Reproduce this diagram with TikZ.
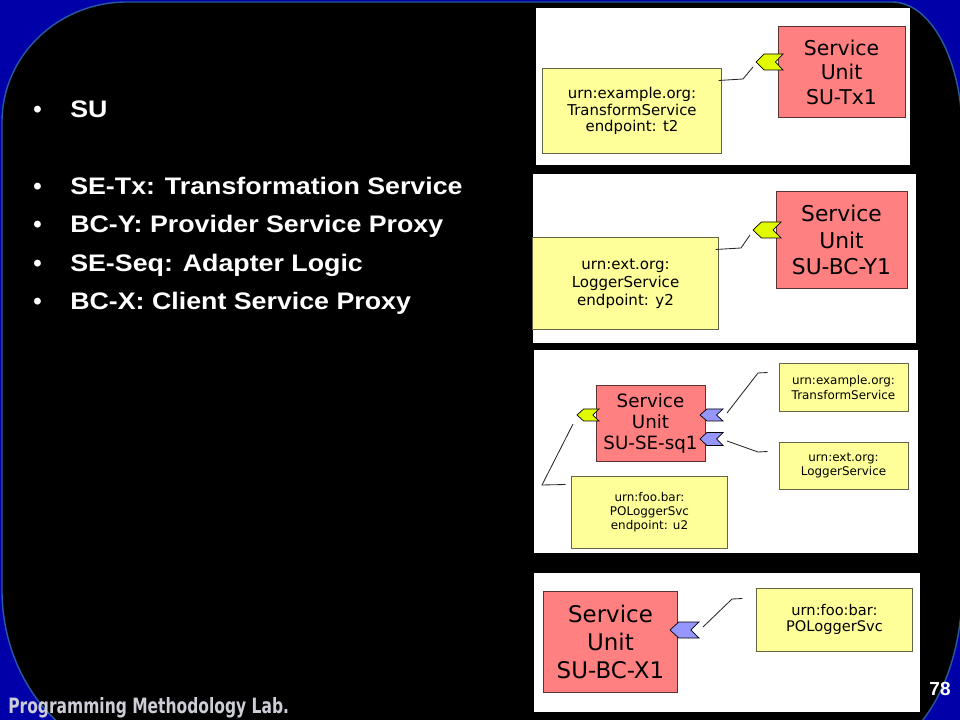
\documentclass[tikz,border=0pt]{standalone}
\usepackage{fontspec}
\setmainfont{Liberation Sans}
\newfontfamily\diafont{DejaVu Sans}
\usetikzlibrary{calc}
\definecolor{slblue}{RGB}{0,0,168}
\definecolor{sledge}{RGB}{40,90,160}
\definecolor{sured}{RGB}{255,128,128}
\definecolor{suredline}{RGB}{90,50,50}
\definecolor{refyel}{RGB}{255,255,153}
\definecolor{refyelline}{RGB}{100,100,70}
\definecolor{chyel}{RGB}{226,250,0}
\definecolor{chblue}{RGB}{150,150,255}
\definecolor{wire}{RGB}{40,40,40}
\definecolor{labgray}{RGB}{205,205,215}

% chevron endpoint: tip x, tip y, width, height, colour
\def\chevron#1#2#3#4#5{%
  \filldraw[fill=#5, draw=black, line width=0.5pt]
    (#1,#2) -- (#1+0.3*#3,#2-0.5*#4) -- (#1+#3,#2-0.5*#4)
    -- (#1+0.72*#3,#2) -- (#1+#3,#2+0.5*#4) -- (#1+0.3*#3,#2+0.5*#4) -- cycle;
}

\begin{document}
\begin{tikzpicture}[x=0.025cm, y=-0.025cm,
  unitbox/.style={draw=suredline, fill=sured, line width=0.7pt, align=center,
    inner sep=0pt, text=black},
  refbox/.style={draw=refyelline, fill=refyel, line width=0.7pt, align=center,
    inner sep=0pt, text=black},
  item/.style={white, anchor=base west, inner sep=0pt},
  link/.style={wire, line width=0.6pt}]
\useasboundingbox (0,0) rectangle (960,720);
\clip (0,0) rectangle (960,720);

% background
\fill[slblue] (0,0) rectangle (960,720);
\filldraw[fill=black, draw=sledge, line width=1pt]
  (2,122) .. controls (2,55.7) and (58,2) .. (127,2)
  -- (892,2) .. controls (930.7,2) and (962,60.2) .. (962,132)
  -- (962,590) .. controls (962,683.9) and (912.8,760) .. (852,760)
  -- (152,760) .. controls (69.2,760) and (2,683.9) .. (2,590) -- cycle;

% bullet list
\foreach \i/\y/\txt in {1/118/SU,
    2/195/{SE-Tx: Transformation Service},
    3/233/{BC-Y: Provider Service Proxy},
    4/272/{SE-Seq: Adapter Logic},
    5/310/{BC-X: Client Service Proxy}}{
  \node[item, font=\fontsize{17}{20}\selectfont\bfseries] (dot\i) at (33,\y) {\textbullet};
  \node[item, font=\fontsize{17}{20}\selectfont\bfseries] (item\i) at (70,\y)
    {\scalebox{1.12}[1]{\txt}};
}

% ---- panel 1: SU-Tx1 ----
\fill[white] (536,8) rectangle (910,165);
\node[unitbox, minimum width=3.175cm, minimum height=2.25cm,
  font=\diafont\fontsize{14.5}{17.4}\selectfont] (sutx) at (841.5,72)
  {Service\\Unit\\SU-Tx1};
\node[refbox, minimum width=4.45cm, minimum height=2.1cm,
  font=\diafont\fontsize{10.6}{12}\selectfont] (txsvc) at (632,111)
  {urn:example.org:\\TransformService\\endpoint: t2};
\chevron{756}{62}{27}{16}{chyel}
\coordinate (tx1) at (743,79);
\coordinate (tx2) at (753,67);
\draw[link] ($(txsvc.north east)+(-3,12)$) -- (tx1) -- (tx2);

% ---- panel 2: SU-BC-Y1 ----
\fill[white] (533,174) rectangle (916,343);
\node[unitbox, minimum width=3.275cm, minimum height=2.4cm,
  font=\diafont\fontsize{15.5}{19}\selectfont] (subcy) at (841.5,240)
  {Service\\Unit\\SU-BC-Y1};
\node[refbox, minimum width=4.625cm, minimum height=2.275cm,
  font=\diafont\fontsize{10.7}{12.8}\selectfont] (logsvc) at (625.5,283.5)
  {urn:ext.org:\\LoggerService\\endpoint: y2};
\chevron{753}{230}{28}{16}{chyel}
\coordinate (ly1) at (741,248);
\coordinate (ly2) at (750,235);
\draw[link] ($(logsvc.north east)+(-3,12)$) -- (ly1) -- (ly2);

% ---- panel 3: SU-SE-sq1 ----
\fill[white] (534,350) rectangle (918,553);
\node[unitbox, minimum width=2.725cm, minimum height=1.875cm,
  font=\diafont\fontsize{13}{15}\selectfont] (suseq) at (650.5,423.5)
  {Service\\Unit\\SU-SE-sq1};
\node[refbox, minimum width=3.225cm, minimum height=1.175cm,
  font=\diafont\fontsize{8.5}{11.2}\selectfont] (txref) at (843.5,387.5)
  {urn:example.org:\\TransformService};
\node[refbox, minimum width=3.225cm, minimum height=1.175cm,
  font=\diafont\fontsize{8.5}{10}\selectfont] (logref) at (843.5,465.5)
  {urn:ext.org:\\LoggerService};
\node[refbox, minimum width=3.875cm, minimum height=1.775cm,
  font=\diafont\fontsize{8.5}{10}\selectfont] (posvc) at (649.5,512.5)
  {urn:foo.bar:\\POLoggerSvc\\endpoint: u2};
\chevron{577}{415}{22}{12}{chyel}
\chevron{700}{415}{23}{12}{chblue}
\chevron{700}{439}{23}{13}{chblue}
\coordinate (sq1) at (758,373);
\coordinate (sq2) at (727,413);
\coordinate (sq3) at (758,452);
\coordinate (sq4) at (727,441);
\coordinate (sq5) at (542,485);
\coordinate (sq6) at (573,424);
\draw[link] ($(txref.west)+(-11,-15)$) -- (sq1) -- (sq2);
\draw[link] ($(logref.west)+(-11,-14)$) -- (sq3) -- (sq4);
\draw[link] ($(posvc.north west)+(-6,8)$) -- (sq5) -- (sq6);

% ---- panel 4: SU-BC-X1 ----
\fill[white] (534,573) rectangle (920,712);
\node[unitbox, minimum width=3.325cm, minimum height=2.5cm,
  font=\diafont\fontsize{16.3}{19.6}\selectfont] (subcx) at (610.5,642)
  {Service\\Unit\\SU-BC-X1};
\node[refbox, minimum width=3.875cm, minimum height=1.575cm,
  font=\diafont\fontsize{10.4}{12}\selectfont] (poref) at (834.5,619.5)
  {urn:foo:bar:\\POLoggerSvc};
\chevron{670}{630}{29}{16}{chblue}
\coordinate (bx1) at (732,599);
\coordinate (bx2) at (703,627);
\draw[link] ($(poref.north west)+(-14,11)$) -- (bx1) -- (bx2);

% footer
\node[labgray, anchor=base west, inner sep=0pt,
  font=\fontsize{15}{17}\selectfont\diafont\bfseries] (lab) at (8,713)
  {\scalebox{0.735}[1]{Programming Methodology Lab.}};
\node[white, inner sep=0pt, font=\fontsize{13.5}{15}\selectfont\bfseries]
  (pgno) at (940,689) {78};
\end{tikzpicture}
\end{document}
